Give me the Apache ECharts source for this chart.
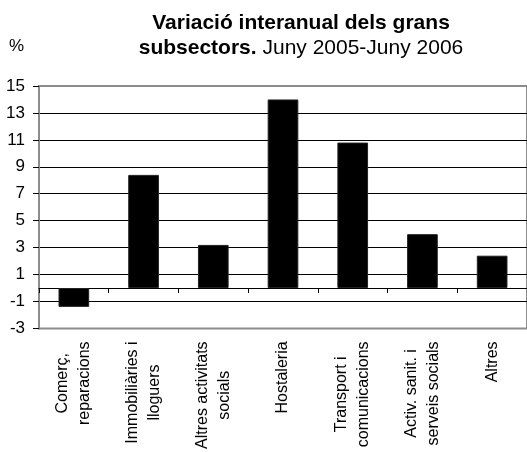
<!DOCTYPE html>
<html>
<head>
<meta charset="utf-8">
<script src="https://cdn.jsdelivr.net/npm/echarts@6/dist/echarts.min.js"></script>
<style>
  html, body { margin: 0; padding: 0; background: #fff; }
  #chart { width: 527px; height: 452px; }
</style>
</head>
<body>
<div id="chart"></div>
<script>
// Chart data
const categories = [
    'Comerç,\nreparacions',
    'Immobiliàries i\nlloguers',
    'Altres activitats\nsocials',
    'Hostaleria',
    'Transport i\ncomunicacions',
    'Activ. sanit. i\nserveis socials',
    'Altres',
];
const variation = [-1.4, 8.4, 3.2, 14.0, 10.8, 4.0, 2.4];
const yTicks = { min: -3, max: 15, step: 2 };

const font = 'Liberation Sans, Arial, sans-serif';
const chart = echarts.init(document.getElementById('chart'));

// center each wrapped line inside its label block
const centeredLines = (value) => value.split('\n').map((l) => `{c|${l}}`).join('\n');

const option = {
    animation: false,
    backgroundColor: '#fff',
    textStyle: { fontFamily: font, color: '#000' },
    title: {
        text: '{b|Variació interanual dels grans}\n{b|subsectors.}{n| Juny 2005-Juny 2006}',
        left: 296,
        top: 6,
        textAlign: 'center',
        textStyle: {
            fontWeight: 'normal',
            rich: {
                b: { fontFamily: font, fontSize: 21, fontWeight: 'bold', color: '#000', lineHeight: 25 },
                n: { fontFamily: font, fontSize: 21, fontWeight: 'normal', color: '#000', lineHeight: 25 },
            },
        },
    },
    grid: {
        left: 39,
        right: -11,
        top: 86,
        bottom: 120,
        show: true,
        borderColor: '#8c8c8c',
        borderWidth: 2,
    },
    xAxis: {
        type: 'category',
        data: categories,
        axisLine: { onZero: true, lineStyle: { color: '#000', width: 1 } },
        axisTick: { show: true, length: 5, lineStyle: { color: '#000' } },
        axisLabel: {
            interval: 0,
            rotate: 90,
            margin: 13,
            formatter: centeredLines,
            rich: {
                c: { fontFamily: font, fontSize: 16, color: '#000', align: 'center', lineHeight: 22 },
            },
        },
        splitLine: { show: false },
    },
    yAxis: {
        type: 'value',
        min: yTicks.min,
        max: yTicks.max,
        interval: yTicks.step,
        name: '%',
        nameLocation: 'end',
        nameGap: 40,
        nameTextStyle: {
            fontFamily: font,
            fontSize: 17,
            color: '#000',
            align: 'right',
            verticalAlign: 'middle',
            padding: [0, 15, 0, 0],
        },
        axisLine: { show: true, lineStyle: { color: '#8c8c8c', width: 2 } },
        axisTick: { show: true, length: 6, lineStyle: { color: '#000' } },
        axisLabel: { fontFamily: font, fontSize: 17, color: '#000', margin: 14 },
        splitLine: {
            show: true,
            showMinLine: false,
            showMaxLine: false,
            lineStyle: { color: '#000', width: 1 },
        },
    },
    series: [
        {
            type: 'bar',
            data: variation,
            barWidth: '44%',
            itemStyle: { color: '#000', borderColor: '#222', borderWidth: 1 },
            silent: true,
        },
    ],
};

chart.setOption(option);
</script>
</body>
</html>
